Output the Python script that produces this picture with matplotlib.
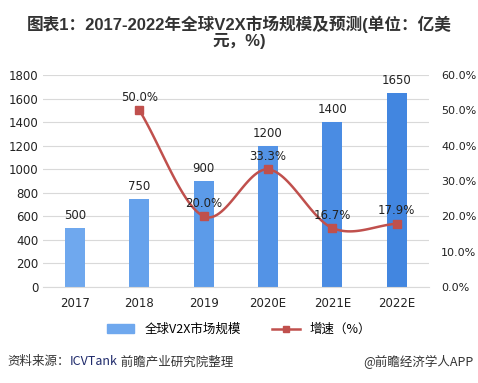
import numpy as np
import matplotlib.pyplot as plt
from matplotlib.lines import Line2D
from matplotlib.patches import Patch
from matplotlib.offsetbox import TextArea, HPacker, AnchoredOffsetbox

plt.rcParams['font.family'] = ['DejaVu Sans', 'Noto Sans CJK SC']

years = ['2017', '2018', '2019', '2020E', '2021E', '2022E']
market = [500, 750, 900, 1200, 1400, 1650]
growth = [None, 50.0, 20.0, 33.3, 16.7, 17.9]
bar_colors = ['#6fa8ee', '#66a2ec', '#5c9be9', '#5393e6', '#4a8ce3', '#4286e0']


def catmull_rom(xs, ys, n=30):
    # smooth line like Excel's "smoothed line"
    px = [2 * xs[0] - xs[1]] + list(xs) + [2 * xs[-1] - xs[-2]]
    py = [2 * ys[0] - ys[1]] + list(ys) + [2 * ys[-1] - ys[-2]]
    out_x, out_y = [], []
    for i in range(1, len(px) - 2):
        t = np.linspace(0, 1, n)
        for arr, src in ((out_x, px), (out_y, py)):
            p0, p1, p2, p3 = src[i - 1], src[i], src[i + 1], src[i + 2]
            arr.extend(0.5 * (2 * p1 + (-p0 + p2) * t
                              + (2 * p0 - 5 * p1 + 4 * p2 - p3) * t ** 2
                              + (-p0 + 3 * p1 - 3 * p2 + p3) * t ** 3))
    return np.array(out_x), np.array(out_y)


fig = plt.figure(figsize=(4.78, 3.83), dpi=100)
ax = fig.add_axes([0.09, 0.2507, 0.807, 0.5533])
x = np.arange(len(years))

ax.bar(x, market, width=0.31, color=bar_colors, zorder=2)
for xi, v in zip(x, market):
    ax.text(xi, v + 50, str(v), ha='center', va='bottom', fontsize=8.5, color='#222222')

ax.set_xlim(-0.5, len(years) - 0.5)
ax.set_ylim(0, 1800)
ax.set_yticks(range(0, 1801, 200))
ax.set_xticks(x)
ax.set_xticklabels(years)
ax.grid(axis='y', color='#d9d9d9', linewidth=0.8, zorder=0)
for s in ['top', 'right', 'left']:
    ax.spines[s].set_visible(False)
ax.spines['bottom'].set_color('#d9d9d9')
ax.tick_params(length=0, labelsize=8.5, colors='#222222')
ax.tick_params(axis='x', pad=7)

ax2 = ax.twinx()
ax2.set_ylim(0, 60)
ax2.set_yticks(range(0, 61, 10))
ax2.set_yticklabels([f'{v:.1f}%' for v in range(0, 61, 10)])
for s in ax2.spines.values():
    s.set_visible(False)
ax2.tick_params(length=0, labelsize=8, colors='#222222', pad=9)

gx = [xi for xi, g in zip(x, growth) if g is not None]
gy = [g for g in growth if g is not None]
sx, sy = catmull_rom(gx, gy)
ax2.plot(sx, sy, color='#c0504d', linewidth=1.8, zorder=3)
ax2.plot(gx, gy, 's', color='#c0504d', markersize=6, zorder=4)
for xi, g in zip(gx, gy):
    ax2.text(xi, g + 1.8, f'{g:.1f}%', ha='center', va='bottom', fontsize=8.5, color='#222222')

fig.text(0.5, 0.96, '图表1：2017-2022年全球V2X市场规模及预测(单位：亿美\n元，%)',
         ha='center', va='top', fontsize=12, fontweight='bold', color='#333333',
         family=['Liberation Sans', 'Noto Sans CJK SC'], linespacing=1.05)

handles = [Patch(color='#6fa8ee'),
           Line2D([0], [0], color='#c0504d', linewidth=1.8, marker='s', markersize=5)]
fig.legend(handles, ['全球V2X市场规模', '增速（%）'], loc='center', bbox_to_anchor=(0.5, 0.14),
           ncol=2, frameon=False, handlelength=2.2, columnspacing=2.5,
           prop={'family': ['Noto Sans CJK SC'], 'size': 9})

src_font = {'family': ['Noto Sans CJK SC'], 'size': 9}
parts = [TextArea('资料来源：', textprops=dict(color='#333333', **src_font)),
         TextArea('ICVTank', textprops=dict(color='#1f2a6b', **src_font)),
         TextArea(' 前瞻产业研究院整理', textprops=dict(color='#333333', **src_font))]
box = HPacker(children=parts, pad=0, sep=0)
fig.add_artist(AnchoredOffsetbox(loc='center left', child=box, frameon=False, pad=0,
                                 borderpad=0, bbox_to_anchor=(0.015, 0.055),
                                 bbox_transform=fig.transFigure))
fig.text(0.99, 0.055, '@前瞻经济学人APP', ha='right', va='center', color='#333333', **src_font)

fig.savefig('out.png', dpi=100)
